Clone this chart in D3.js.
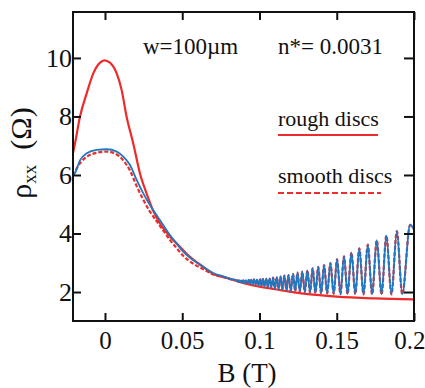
<!DOCTYPE html>
<html>
<head>
<meta charset="utf-8">
<script src="https://cdn.jsdelivr.net/npm/d3@7"></script>
<style>
  body { margin: 0; background: #fff; }
  svg { display: block; }
</style>
</head>
<body>
<div id="chart"></div>
<script>
// rough discs (solid red)
const roughB = [-0.0207, -0.0194, -0.0162, -0.0118, -0.0075, -0.0032, -0.0004, 0.0032, 0.0075, 0.0108,
  0.014, 0.0183, 0.0226, 0.0269, 0.031, 0.0355, 0.042, 0.0485, 0.055, 0.0636, 0.07, 0.081,
  0.09, 0.1, 0.113, 0.125, 0.137, 0.15, 0.175, 0.2];
const roughRho = [6.75, 7.08, 7.99, 8.8, 9.48, 9.84, 9.92, 9.84, 9.48, 8.9,
  7.99, 7.08, 6.06, 5.37, 4.8, 4.35, 3.9, 3.55, 3.2, 2.86, 2.62, 2.45,
  2.3, 2.18, 2.07, 1.97, 1.9, 1.84, 1.78, 1.75];

// smooth discs, blue trace (low field part)
const smoothB = [-0.0207, -0.0194, -0.0162, -0.0118, -0.0054, 0.0011, 0.0076, 0.0118, 0.0162, 0.0205,
  0.0248, 0.0291, 0.0334, 0.0377, 0.042, 0.0464, 0.0506, 0.0571, 0.0636, 0.07, 0.0775, 0.081];
const smoothRho = [6.0, 6.07, 6.5, 6.74, 6.86, 6.88, 6.8, 6.63, 6.34, 5.83,
  5.37, 4.97, 4.63, 4.29, 3.95, 3.66, 3.38, 3.09, 2.86, 2.65, 2.52, 2.45];

// smooth discs, red dashed trace (low field part)
const dashB = [-0.0207, -0.0162, -0.0118, -0.0054, 0.0011, 0.0076, 0.0118, 0.0162, 0.0205, 0.0248,
  0.0291, 0.0334, 0.0377, 0.042, 0.0464, 0.0506, 0.0571, 0.0636, 0.07, 0.0775, 0.081];
const dashRho = [5.98, 6.4, 6.62, 6.76, 6.8, 6.7, 6.5, 6.15, 5.62, 5.15,
  4.75, 4.42, 4.1, 3.78, 3.5, 3.24, 2.97, 2.78, 2.6, 2.5, 2.44];

// oscillation maxima / minima (B, rho)
const oscB = [0.0853, 0.0860, 0.0867, 0.0874, 0.0882, 0.0889, 0.0897, 0.0905, 0.0913, 0.0921,
  0.0930, 0.0938, 0.0947, 0.0956, 0.0965, 0.0974, 0.0983, 0.0993, 0.1003, 0.1012,
  0.1022, 0.1033, 0.1043, 0.1054, 0.1065, 0.1076, 0.1088, 0.1099, 0.1111, 0.1123,
  0.1136, 0.1148, 0.1161, 0.1175, 0.1188, 0.1202, 0.1217, 0.1231, 0.1246, 0.1261,
  0.1277, 0.1293, 0.1310, 0.1327, 0.1344, 0.1362, 0.1380, 0.1399, 0.1418, 0.1438,
  0.1459, 0.1480, 0.1502, 0.1524, 0.1547, 0.1570, 0.1595, 0.1620, 0.1646, 0.1673,
  0.1701, 0.1729, 0.1759, 0.1790, 0.1821, 0.1854, 0.1889, 0.1924, 0.1975, 0.2000];
const oscRho = [2.40, 2.35, 2.40, 2.34, 2.40, 2.32, 2.41, 2.31, 2.41, 2.30,
  2.42, 2.28, 2.42, 2.26, 2.43, 2.25, 2.43, 2.23, 2.44, 2.21,
  2.45, 2.19, 2.46, 2.17, 2.47, 2.15, 2.49, 2.12, 2.51, 2.11,
  2.53, 2.09, 2.56, 2.07, 2.58, 2.04, 2.62, 2.03, 2.66, 2.01,
  2.70, 2.00, 2.74, 1.98, 2.81, 1.96, 2.86, 1.95, 2.92, 1.95,
  2.99, 1.94, 3.12, 1.93, 3.22, 1.93, 3.35, 1.93, 3.49, 1.92,
  3.62, 1.92, 3.77, 1.92, 3.93, 1.92, 4.08, 1.92, 4.30, 4.15];

const xTicks = [0, 0.05, 0.1, 0.15, 0.2];
const xTickLabels = ['0', '0.05', '0.1', '0.15', '0.2'];
const yTicks = [2, 4, 6, 8, 10];

const width = 425, height = 388;
const margin = { top: 12, right: 11, bottom: 67, left: 73 };
const w = width - margin.left - margin.right;
const h = height - margin.top - margin.bottom;

const red = '#ee2b2b';
const blue = '#1f78c2';
const serif = 'Liberation Serif';

const svg = d3.select('#chart').append('svg')
  .attr('width', width)
  .attr('height', height)
  .style('font-family', serif);

const g = svg.append('g')
  .attr('transform', `translate(${margin.left},${margin.top})`);

const x = d3.scaleLinear().domain([-0.0207, 0.2]).range([0, w]);
const y = d3.scaleLinear().domain([1.01, 11.57]).range([h, 0]);

g.append('clipPath').attr('id', 'clip')
  .append('rect').attr('width', w).attr('height', h);

const line = d3.line()
  .x(d => x(d[0]))
  .y(d => y(d[1]))
  .curve(d3.curveMonotoneX);

const rough = roughB.map((b, i) => [b, roughRho[i]]);
const osc = oscB.map((b, i) => [b, oscRho[i]]);
const smooth = smoothB.map((b, i) => [b, smoothRho[i]]).concat(osc);
const dashed = dashB.map((b, i) => [b, dashRho[i]]).concat(osc);

const plot = g.append('g').attr('clip-path', 'url(#clip)');

plot.append('path')
  .datum(dashed)
  .attr('fill', 'none')
  .attr('stroke', red)
  .attr('stroke-width', 2.2)
  .attr('stroke-dasharray', '4,2')
  .attr('d', line);

plot.append('path')
  .datum(rough)
  .attr('fill', 'none')
  .attr('stroke', red)
  .attr('stroke-width', 2.2)
  .attr('d', line);

plot.append('path')
  .datum(smooth)
  .attr('fill', 'none')
  .attr('stroke', blue)
  .attr('stroke-width', 1.8)
  .attr('d', line);

// axes, ticks pointing inward
const xAxis = g.append('g')
  .attr('transform', `translate(0,${h})`)
  .call(d3.axisBottom(x).tickValues(xTicks)
    .tickFormat((d, i) => xTickLabels[i])
    .tickSizeInner(-8).tickSizeOuter(0).tickPadding(10));

const yAxis = g.append('g')
  .call(d3.axisLeft(y).tickValues(yTicks)
    .tickSizeInner(-8).tickSizeOuter(0).tickPadding(1));

g.append('g')
  .call(d3.axisTop(x).tickValues(xTicks).tickFormat('')
    .tickSizeInner(-8).tickSizeOuter(0));

g.append('g')
  .attr('transform', `translate(${w},0)`)
  .call(d3.axisRight(y).tickValues(yTicks).tickFormat('')
    .tickSizeInner(-10).tickSizeOuter(0));

g.selectAll('.domain').remove();
g.selectAll('.tick line').attr('stroke', '#111').attr('stroke-width', 2);

xAxis.selectAll('text').style('font-family', serif).style('font-size', '25px').attr('fill', '#111');
// last label sits on the right edge, keep it inside the picture
xAxis.selectAll('.tick:last-of-type text').attr('text-anchor', 'end').attr('x', 11);
yAxis.selectAll('text').style('font-family', serif).style('font-size', '26px').attr('fill', '#111');

g.append('rect')
  .attr('width', w)
  .attr('height', h)
  .attr('fill', 'none')
  .attr('stroke', '#111')
  .attr('stroke-width', 2);

// axis titles
svg.append('text')
  .attr('x', 247)
  .attr('y', 382)
  .attr('text-anchor', 'middle')
  .attr('fill', '#111')
  .style('font-family', serif)
  .style('font-size', '27px')
  .text('B (T)');

const yl = svg.append('text')
  .attr('transform', 'translate(31,153) rotate(-90)')
  .attr('text-anchor', 'middle')
  .attr('fill', '#111')
  .style('font-family', serif)
  .style('font-size', '30px');
yl.append('tspan').text('ρ');
yl.append('tspan').attr('dy', '0.25em').style('font-size', '19px').text('xx');
yl.append('tspan').attr('dy', '-0.16em').text('\u00a0\u00a0(Ω)');

// annotations
const note = (tx, ty, size, str) => svg.append('text')
  .attr('x', tx).attr('y', ty)
  .attr('fill', '#111')
  .style('font-family', serif)
  .style('font-size', size)
  .text(str);
note(143, 54, '23px', 'w=100µm');
note(278, 54, '23px', 'n*= 0.0031');
note(278, 126, '22px', 'rough discs');
note(278, 183, '22px', 'smooth discs');

svg.append('line')
  .attr('x1', 278).attr('x2', 378).attr('y1', 135).attr('y2', 135)
  .attr('stroke', red).attr('stroke-width', 2.2);
svg.append('line')
  .attr('x1', 278).attr('x2', 381).attr('y1', 193).attr('y2', 193)
  .attr('stroke', red).attr('stroke-width', 2.2)
  .attr('stroke-dasharray', '6,3');
</script>
</body>
</html>
